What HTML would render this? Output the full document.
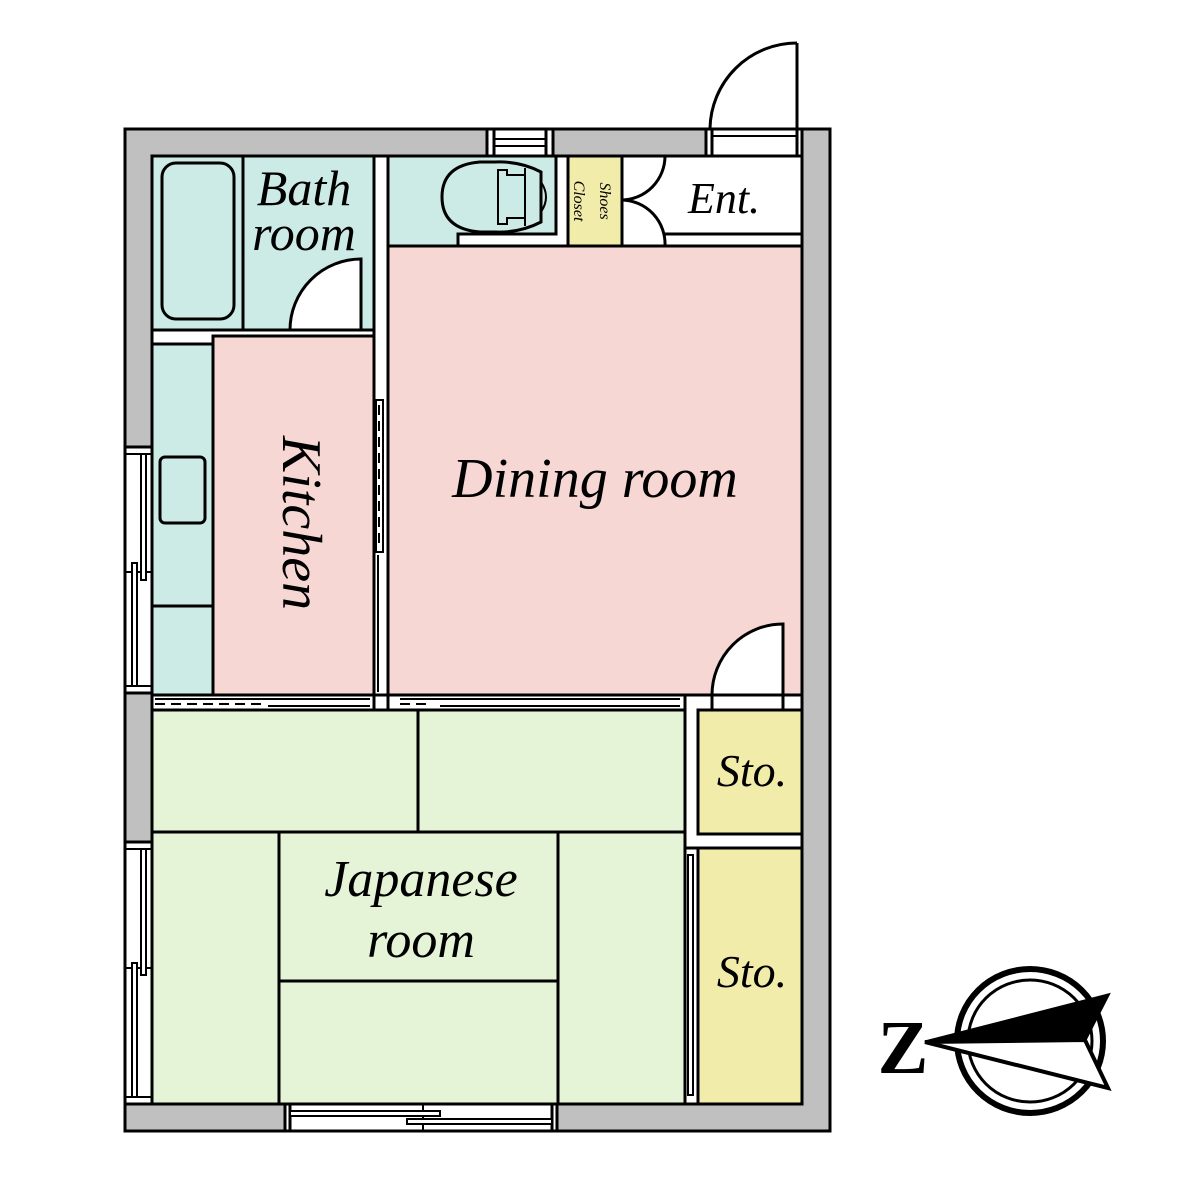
<!DOCTYPE html>
<html><head><meta charset="utf-8"><style>
html,body{margin:0;padding:0;background:#fff;width:1200px;height:1200px;overflow:hidden}
svg{display:block}
text{font-family:"Liberation Serif",serif;font-style:italic;fill:#000;stroke:none}
</style></head><body>
<svg width="1200" height="1200" viewBox="0 0 1200 1200" xmlns="http://www.w3.org/2000/svg" stroke="#000" stroke-width="3">
<rect x="125" y="129" width="705" height="1002" fill="#bfc0bf"/>
<rect x="152" y="156" width="650" height="948" fill="#fff"/>
<rect x="487" y="129" width="66" height="27" fill="#fff"/>
<line x1="494" y1="129" x2="494" y2="156"/><line x1="546" y1="129" x2="546" y2="156"/>
<line x1="494" y1="139" x2="546" y2="139" stroke-width="2"/><line x1="494" y1="146" x2="546" y2="146" stroke-width="2"/>
<rect x="706" y="129" width="96" height="27" fill="#fff"/>
<line x1="712" y1="129" x2="712" y2="156"/><line x1="797" y1="129" x2="797" y2="156"/>
<line x1="712" y1="136" x2="797" y2="136" stroke-width="2"/>
<path d="M797 43 L797 129 M710 129 A87 87 0 0 1 797 43" fill="none"/>
<rect x="125" y="447" width="27" height="246" fill="#fff"/>
<line x1="125" y1="454" x2="152" y2="454" stroke-width="2"/><line x1="125" y1="572" x2="152" y2="572" stroke-width="2"/><line x1="125" y1="686" x2="152" y2="686" stroke-width="2"/>
<rect x="141" y="454" width="5" height="126" fill="#fff" stroke-width="2"/>
<rect x="132" y="563" width="5" height="123" fill="#fff" stroke-width="2"/>
<rect x="125" y="842" width="27" height="262" fill="#fff"/>
<line x1="125" y1="849" x2="152" y2="849" stroke-width="2"/><line x1="125" y1="968" x2="152" y2="968" stroke-width="2"/><line x1="125" y1="1097" x2="152" y2="1097" stroke-width="2"/>
<rect x="141" y="849" width="5" height="126" fill="#fff" stroke-width="2"/>
<rect x="132" y="963" width="5" height="134" fill="#fff" stroke-width="2"/>
<rect x="285" y="1104" width="272" height="27" fill="#fff"/>
<line x1="290" y1="1104" x2="290" y2="1131"/><line x1="552" y1="1104" x2="552" y2="1131"/>
<line x1="423" y1="1104" x2="423" y2="1131" stroke-width="2"/>
<rect x="290" y="1111" width="150" height="5" fill="#fff" stroke-width="2"/>
<rect x="407" y="1119" width="145" height="5" fill="#fff" stroke-width="2"/>
<rect x="152" y="156" width="222" height="174" fill="#cdebe6"/>
<line x1="243" y1="156" x2="243" y2="330"/>
<rect x="162" y="163" width="72" height="156" rx="14" fill="#cdebe6"/>
<path d="M361 330 L361 259 A71 71 0 0 0 290 330 Z" fill="#fff"/>
<rect x="152" y="330" width="222" height="14" fill="#fff"/>
<path d="M388 156 H556 V234 H458 V246 H388 Z" fill="#cdebe6"/>
<path d="M392 246 V312 A66 66 0 0 0 458 246 Z" fill="#fff"/>
<path d="M541 172 Q520 161 495 162 H480 Q442 165 442 197 Q442 229 480 232 H495 Q520 233 541 222 Z" fill="#cdebe6"/>
<path d="M498 170 H507 V175 H525 V218 H507 V224 H498 Z" fill="#cdebe6" stroke-width="2"/>
<line x1="525" y1="168" x2="525" y2="226" stroke-width="2"/>
<path d="M541 182 Q551 197 541 212" fill="none" stroke-width="2"/>
<rect x="568" y="156" width="54" height="90" fill="#f2ecaa"/>
<path d="M665 156 A44 44 0 0 1 622 200 M622 200 A44 44 0 0 1 665 246" fill="none"/>
<line x1="665" y1="234" x2="802" y2="234"/>
<line x1="388" y1="246" x2="802" y2="246"/>
<rect x="388" y="246" width="414" height="449" fill="#f6d7d4"/>
<path d="M783 695 V624 A71 71 0 0 0 712 695 Z" fill="#fff"/>
<rect x="152" y="344" width="61" height="351" fill="#cdebe6"/>
<line x1="152" y1="606" x2="213" y2="606"/>
<rect x="213" y="336" width="161" height="359" fill="#f6d7d4"/>
<rect x="160" y="457" width="45" height="66" rx="5" fill="#cdebe6"/>
<rect x="374" y="400" width="14" height="295" fill="#fff" stroke="none"/>
<line x1="374" y1="246" x2="374" y2="695"/><line x1="388" y1="246" x2="388" y2="695"/>
<rect x="376" y="400" width="7" height="152" fill="#fff" stroke-width="2"/>
<line x1="379" y1="405" x2="379" y2="545" stroke-dasharray="10,6" stroke-width="2"/>
<line x1="378" y1="555" x2="378" y2="692" stroke-width="2"/>
<rect x="152" y="695" width="533" height="15" fill="#fff"/>
<line x1="155" y1="704" x2="263" y2="704" stroke-dasharray="10,6" stroke-width="2"/>
<line x1="155" y1="699" x2="370" y2="699" stroke-width="2"/>
<line x1="268" y1="706" x2="370" y2="706" stroke-width="2"/>
<line x1="400" y1="704" x2="430" y2="704" stroke-dasharray="10,6" stroke-width="2"/>
<line x1="400" y1="699" x2="680" y2="699" stroke-width="2"/>
<line x1="440" y1="706" x2="680" y2="706" stroke-width="2"/>
<line x1="374" y1="695" x2="374" y2="710"/><line x1="388" y1="695" x2="388" y2="710"/>
<rect x="152" y="710" width="533" height="394" fill="#e5f3d6"/>
<line x1="152" y1="832" x2="685" y2="832"/>
<line x1="418" y1="710" x2="418" y2="832"/>
<line x1="279" y1="832" x2="279" y2="1104"/>
<line x1="558" y1="832" x2="558" y2="1104"/>
<line x1="279" y1="981" x2="558" y2="981"/>
<rect x="698" y="710" width="104" height="124" fill="#f2ecaa"/>
<rect x="698" y="848" width="104" height="256" fill="#f2ecaa"/>
<line x1="685" y1="695" x2="802" y2="695"/>
<line x1="712" y1="695" x2="712" y2="710"/><line x1="783" y1="695" x2="783" y2="710"/>
<line x1="685" y1="848" x2="698" y2="848"/>
<rect x="688" y="855" width="5" height="240" fill="#fff" stroke-width="2"/>
<rect x="125" y="129" width="705" height="1002" fill="none"/>
<text x="304" y="205" font-size="50" text-anchor="middle">Bath</text>
<text x="304" y="250" font-size="50" text-anchor="middle">room</text>
<text x="595" y="497" font-size="56" text-anchor="middle">Dining room</text>
<text transform="translate(283,523) rotate(90)" font-size="56" text-anchor="middle">Kitchen</text>
<text x="421" y="896" font-size="52" text-anchor="middle">Japanese</text>
<text x="421" y="957" font-size="52" text-anchor="middle">room</text>
<text x="752" y="786" font-size="46" text-anchor="middle">Sto.</text>
<text x="752" y="987" font-size="46" text-anchor="middle">Sto.</text>
<text x="724" y="213" font-size="44" text-anchor="middle">Ent.</text>
<text transform="translate(600,201) rotate(90)" font-size="16" text-anchor="middle">Shoes</text>
<text transform="translate(574,201) rotate(90)" font-size="16" text-anchor="middle">Closet</text>
<ellipse cx="1030" cy="1041" rx="73" ry="72" fill="none" stroke-width="6"/>
<ellipse cx="1030" cy="1041" rx="62" ry="61" fill="none" stroke-width="3"/>
<path d="M925 1042 L1108 1088 L1085 1040 Z" fill="#fff" stroke-width="4"/>
<path d="M925 1042 L1108 995 L1085 1040 Z" fill="#000" stroke-width="3"/>
<text x="903" y="1073" font-size="76" text-anchor="middle" style="font-style:normal;font-weight:bold">Z</text>
</svg>
</body></html>
